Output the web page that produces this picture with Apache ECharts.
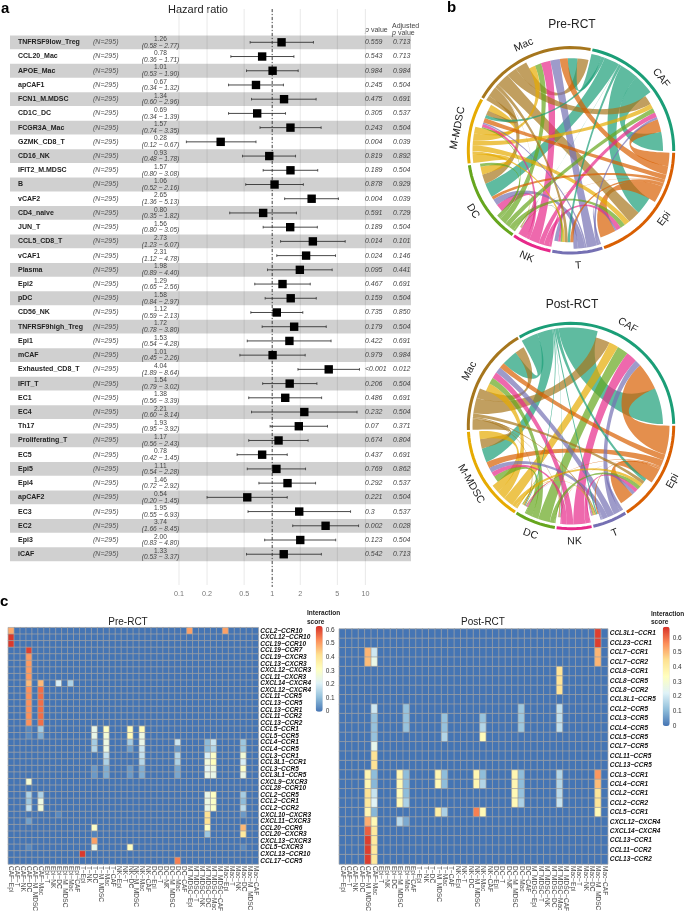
<!DOCTYPE html>
<html><head><meta charset="utf-8">
<style>html,body{margin:0;padding:0;background:#fff}#c{width:685px;height:914px}</style>
<script src="https://cdn.jsdelivr.net/npm/echarts@6/dist/echarts.min.js"></script>
</head><body><div id="c"></div>
<script>
const FONT='"Liberation Sans",Arial,sans-serif';
// ---------- panel a: forest data ----------
const forestNames=['TNFRSF9low_Treg','CCL20_Mac','APOE_Mac','apCAF1','FCN1_M.MDSC','CD1C_DC','FCGR3A_Mac','GZMK_CD8_T','CD16_NK','IFIT2_M.MDSC','B','vCAF2','CD4_naive','JUN_T','CCL5_CD8_T','vCAF1','Plasma','Epi2','pDC','CD56_NK','TNFRSF9high_Treg','Epi1','mCAF','Exhausted_CD8_T','IFIT_T','EC1','EC4','Th17','Proliferating_T','EC5','Epi5','Epi4','apCAF2','EC3','EC2','Epi3','iCAF'];
const forestHR=[1.26,0.78,1.01,0.67,1.34,0.69,1.57,0.28,0.93,1.57,1.06,2.65,0.80,1.56,2.73,2.31,1.98,1.29,1.58,1.12,1.72,1.53,1.01,4.04,1.54,1.38,2.21,1.93,1.17,0.78,1.11,1.46,0.54,1.95,3.74,2.00,1.33];
const forestLo=[0.58,0.36,0.53,0.34,0.60,0.34,0.74,0.12,0.48,0.80,0.52,1.36,0.35,0.80,1.23,1.12,0.89,0.65,0.84,0.59,0.78,0.54,0.45,1.89,0.79,0.56,0.60,0.95,0.56,0.42,0.54,0.72,0.20,0.55,1.66,0.83,0.53];
const forestHi=[2.77,1.71,1.90,1.32,2.96,1.39,3.35,0.67,1.78,3.08,2.16,5.13,1.82,3.05,6.07,4.78,4.40,2.56,2.97,2.13,3.80,4.28,2.26,8.64,3.02,3.39,8.14,3.92,2.43,1.45,2.28,2.92,1.45,6.93,8.45,4.80,3.37];
const forestP=['0.559','0.543','0.984','0.245','0.475','0.305','0.243','0.004','0.819','0.189','0.878','0.004','0.591','0.189','0.014','0.024','0.095','0.467','0.159','0.735','0.179','0.422','0.979','<0.001','0.206','0.486','0.232','0.07','0.674','0.437','0.769','0.292','0.221','0.3','0.002','0.123','0.542'];
const forestAdj=['0.713','0.713','0.984','0.504','0.691','0.537','0.504','0.039','0.892','0.504','0.929','0.039','0.729','0.504','0.101','0.146','0.441','0.691','0.504','0.850','0.504','0.691','0.984','0.012','0.504','0.691','0.504','0.371','0.804','0.691','0.862','0.537','0.504','0.537','0.028','0.504','0.713'];
const forestTicks=[0.1,0.2,0.5,1,2,5,10];
// ---------- panel b: chord data (rows = from, columns = to) ----------
const chordSectors=['CAF','Epi','T','NK','DC','M-MDSC','Mac'];
const chordColors=['#1B9E77','#D95F02','#7570B3','#E7298A','#66A61E','#E6AB02','#A6761D'];
const preFlows=[
 [12,11,1.5,.2,9,2,6],
 [8,10,2,.2,2,3,5],
 [1.5,1,2.5,.2,4,1,6],
 [3,3,1.5,.2,5,2,6],
 [3,3,1,.2,2,.7,4],
 [3,3.5,1.5,.2,5,4,4],
 [6,8,2,.2,6,3,7]];
const postFlows=[
 [23,2,.8,.25,.6,9,10],
 [17,9,.8,.25,.6,4,3.5],
 [4,2,.6,.25,.5,3,4],
 [7,2.5,.6,.25,.5,3,4],
 [7,2.5,.6,.25,.6,4,4],
 [6,2,.8,.25,.6,5,5],
 [9,2,.8,.25,.6,6,6]];
// ---------- panel c: heatmap data ----------
const columnsAll=['CAF-Epi','CAF-T','CAF-NK','CAF-DC','CAF-M_MDSC','CAF-Mac','Epi-T','Epi-NK','Epi-DC','Epi-M_MDSC','Epi-Mac','Epi-CAF','T-Epi','T-NK','T-DC','T-M_MDSC','T-Mac','T-CAF','NK-Epi','NK-T','NK-DC','NK-M_MDSC','NK-Mac','NK-CAF','DC-Epi','DC-T','DC-NK','DC-M_MDSC','DC-Mac','DC-CAF','M_MDSC-Epi','M_MDSC-T','M_MDSC-NK','M_MDSC-DC','M_MDSC-Mac','M_MDSC-CAF','Mac-Epi','Mac-T','Mac-NK','Mac-DC','Mac-M_MDSC','Mac-CAF'];
const preRows=['CCL2-CCR10','CXCL12-CCR10','CCL19-CCR10','CCL19-CCR7','CCL19-CXCR3','CCL13-CXCR3','CXCL12-CXCR3','CCL11-CXCR3','CXCL14-CXCR4','CXCL12-CXCR4','CCL11-CCR5','CCL13-CCR5','CCL13-CCR1','CCL11-CCR2','CCL13-CCR2','CCL5-CCR1','CCL5-CCR5','CCL4-CCR1','CCL4-CCR5','CCL3-CCR1','CCL3L1-CCR1','CCL3-CCR5','CCL3L1-CCR5','CXCL9-CXCR3','CCL28-CCR10','CCL2-CCR5','CCL2-CCR1','CCL2-CCR2','CXCL10-CXCR3','CXCL11-CXCR3','CCL20-CCR6','CCL20-CXCR3','CXCL13-CXCR3','CCL5-CXCR3','CXCL13-CCR10','CCL17-CCR5'];
const postRows=['CCL3L1-CCR1','CCL23-CCR1','CCL7-CCR1','CCL7-CCR2','CCL8-CCR1','CCL8-CCR5','CCL8-CCR2','CCL3L1-CCR5','CCL2-CCR5','CCL3-CCR5','CCL4-CCR5','CCL5-CCR5','CCL7-CCR5','CCL11-CCR5','CCL13-CCR5','CCL3-CCR1','CCL4-CCR1','CCL2-CCR1','CCL2-CCR2','CCL5-CCR1','CXCL12-CXCR4','CXCL14-CXCR4','CCL13-CCR1','CCL11-CCR2','CCL13-CCR2'];
// [row, column, score]; every other cell reads as 0
const preCells=[[0,0,.49],[0,30,.5],[0,36,.5],[1,0,.62],[2,0,.62],[3,3,.61],[4,3,.51],[5,3,.51],[6,3,.51],[7,3,.51],[8,3,.47],[8,5,.47],[8,8,.2],[8,10,.14],
[9,3,.52],[9,5,.56],[10,3,.52],[10,5,.56],[11,3,.52],[11,5,.56],[12,3,.52],[12,5,.56],[13,3,.52],[13,5,.56],[14,3,.52],[14,5,.56],
[15,3,.03],[15,5,.13],[15,14,.24],[15,16,.31],[15,20,.33],[15,22,.33],[16,3,.03],[16,5,.08],[16,14,.24],[16,16,.27],[16,20,.33],[16,22,.25],
[17,14,.13],[17,16,.25],[17,20,.13],[17,22,.24],[17,28,.18],[17,33,.1],[17,34,.18],[17,39,.12],
[18,14,.15],[18,16,.25],[18,20,.06],[18,22,.18],[18,28,.05],[18,33,.1],[18,34,.15],[18,39,.12],
[19,16,.17],[19,22,.17],[19,28,.15],[19,33,.2],[19,34,.3],[19,39,.27],
[20,16,.14],[20,22,.15],[20,28,.14],[20,33,.26],[20,34,.32],[20,39,.2],
[21,14,.05],[21,16,.08],[21,20,.05],[21,22,.08],[21,28,.07],[21,33,.22],[21,34,.26],[21,39,.3],
[22,14,.05],[22,16,.08],[22,20,.05],[22,22,.08],[22,28,.07],[22,33,.24],[22,34,.24],[22,39,.24],
[23,3,.28],[25,3,.14],[25,5,.14],[25,33,.24],[25,34,.31],[25,39,.13],[26,3,.12],[26,5,.25],[26,33,.25],[26,34,.3],[26,39,.1],[27,3,.17],[27,5,.27],[27,33,.24],[27,34,.3],[27,39,.16],
[28,8,.03],[28,33,.41],[28,39,.05],[29,3,.06],[29,33,.41],[30,14,.3],[30,33,.31],[30,39,.47],[31,14,.02],[31,33,.12],[31,39,.39],[32,14,.5],[33,3,.03],[33,14,.24],[33,20,.31],[33,39,.03],[34,12,.62],[35,28,.54]];
const postCells=[[0,40,.66],[1,40,.66],[2,4,.51],[2,5,.2],[2,40,.51],[3,4,.5],[3,5,.26],[3,40,.51],[4,34,.44],[5,34,.44],[6,34,.44],
[8,5,.2],[8,10,.12],[8,28,.13],[8,34,.18],[9,5,.12],[9,10,.12],[9,16,.12],[9,22,.12],[9,28,.13],[9,34,.18],[10,5,.12],[10,10,.12],[10,16,.12],[10,22,.16],[10,28,.13],[10,34,.18],
[11,5,.12],[11,16,.16],[11,22,.35],[12,5,.25],[13,5,.44],[14,5,.44],
[15,4,.37],[15,5,.11],[15,9,.37],[15,10,.11],[15,15,.37],[15,16,.11],[15,21,.37],[15,22,.11],[15,27,.37],[15,28,.11],[15,34,.16],[15,40,.55],
[16,4,.37],[16,5,.1],[16,9,.36],[16,10,.11],[16,15,.36],[16,16,.11],[16,21,.37],[16,22,.16],[16,27,.37],[16,28,.11],[16,34,.16],[16,40,.5],
[17,4,.44],[17,5,.19],[17,9,.35],[17,10,.11],[17,27,.36],[17,28,.12],[17,34,.17],[17,40,.43],
[18,4,.42],[18,5,.23],[18,9,.36],[18,10,.15],[18,27,.36],[18,28,.15],[18,34,.19],[18,40,.43],
[19,4,.37],[19,5,.1],[19,15,.4],[19,16,.15],[19,21,.58],[19,22,.36],[19,40,.36],[20,4,.52],[20,5,.36],[20,9,.17],[20,10,.08],[21,4,.62],[21,5,.42],[22,4,.66],[22,5,.42],[23,4,.66],[23,5,.42],[24,4,.66],[24,5,.42]];
const legendTicks=[0,0.1,0.2,0.3,0.4,0.5,0.6];
const heatColors=['#4575B4','#91BFDB','#E0F3F8','#FFFFBF','#FEE090','#FC8D59','#D73027'];

// ---------- geometry ----------
const ROW=14.22, FOREST_TOP=35.2;
const chartEl=document.getElementById('c');
const chart=echarts.init(chartEl,null,{renderer:'canvas'});
const txt=(x,y,t,o)=>({type:'text',x,y,style:Object.assign({text:t,fontFamily:FONT,fontSize:7,fill:'#444',textAlign:'left',textVerticalAlign:'middle'},o||{})});

function chordLayout(flows,startDeg,gapDeg){
  const n=flows.length;
  const outs=flows.map(r=>r.reduce((a,b)=>a+b,0));
  const ins=flows[0].map((_,j)=>flows.reduce((a,r)=>a+r[j],0));
  const total=outs.reduce((a,b)=>a+b,0)+ins.reduce((a,b)=>a+b,0);
  const k=(360-gapDeg*n)/total;
  const sectors=[],ends={};
  let cur=startDeg;
  for(let i=0;i<n;i++){
    const s=cur;
    for(let o=1;o<=n;o++){const t=(i-o+n*2)%n;const w=flows[i][t]*k;ends['o'+i+'_'+t]=[cur,cur+w];cur+=w;}
    for(let o=1;o<=n;o++){const f=(i-o+n*2)%n;const w=flows[f][i]*k;ends['i'+f+'_'+i]=[cur,cur+w];cur+=w;}
    sectors.push([s,cur]);cur+=gapDeg;
  }
  return {sectors,ends};
}
const pt=(cx,cy,r,deg)=>{const a=deg*Math.PI/180;return [cx+r*Math.sin(a),cy-r*Math.cos(a)];};
const fx=p=>p[0].toFixed(2)+' '+p[1].toFixed(2);
function arcCmd(cx,cy,r,a0,a1){ // clockwise polyline arc
  let s='';const steps=Math.max(2,Math.ceil(Math.abs(a1-a0)/3));
  for(let i=1;i<=steps;i++){s+=' L'+fx(pt(cx,cy,r,a0+(a1-a0)*i/steps));}
  return s;
}
function ribbon(cx,cy,rO,rI,a,b){
  const F=0.52;
  const p0=pt(cx,cy,rO,a[0]),q0=pt(cx,cy,rI,b[0]);
  const c=(ang,r)=>pt(cx,cy,r*F,ang);
  return 'M'+fx(p0)+arcCmd(cx,cy,rO,a[0],a[1])+
    ' C'+fx(c(a[1],rO))+' '+fx(c(b[0],rI))+' '+fx(q0)+
    arcCmd(cx,cy,rI,b[0],b[1])+
    ' C'+fx(c(b[1],rI))+' '+fx(c(a[0],rO))+' '+fx(p0)+' Z';
}
function chordSeries(flows,cx,cy,start,gap){
  const L=chordLayout(flows,start,gap);
  const links=[];
  flows.forEach((r,i)=>r.forEach((v,j)=>links.push([i,j,v])));
  links.sort((p,q)=>q[2]-p[2]);
  const ribbons={type:'custom',coordinateSystem:'none',silent:true,data:links,z:2,
    renderItem(params){
      const l=links[params.dataIndex];
      return {type:'path',shape:{pathData:ribbon(cx,cy,98.5,92,L.ends['o'+l[0]+'_'+l[1]],L.ends['i'+l[0]+'_'+l[1]])},
        style:{fill:chordColors[l[0]],opacity:.7,stroke:null}};
    }};
  const ring={type:'custom',coordinateSystem:'none',silent:true,z:3,data:chordSectors.map((s,i)=>[i]),
    renderItem(params){
      const i=params.dataIndex,[a0,a1]=L.sectors[i];
      const p=pt(cx,cy,102.7,a0);
      const m=(a0+a1)/2,lp=pt(cx,cy,115.5,m);
      let nm=((m%360)+360)%360, rot=(nm>90&&nm<270)?nm-180:nm;
      return {type:'group',children:[
        {type:'path',shape:{pathData:'M'+fx(p)+arcCmd(cx,cy,102.7,a0,a1)},style:{stroke:chordColors[i],lineWidth:3,fill:null}},
        {type:'text',x:lp[0],y:lp[1],rotation:-rot*Math.PI/180,originX:0,originY:0,
         style:{text:chordSectors[i],fontFamily:FONT,fontSize:10.5,fill:'#222',textAlign:'center',textVerticalAlign:'middle'}}
      ]};
    }};
  return [ribbons,ring];
}
function heatData(rows,cols,cells){
  const m=[];rows.forEach((_,r)=>cols.forEach((_,c)=>m.push([c,r,0])));
  cells.forEach(([r,c,v])=>{m[r*cols.length+c][2]=v;});
  return m;
}
const minus=s=>s.replace(/-/g,'\u2212');
const hidden={show:false};
const option={animation:false,backgroundColor:'#fff',textStyle:{fontFamily:FONT},
 grid:[
  {left:179,width:186.4,top:FOREST_TOP,height:ROW*37},
  {left:8.3,width:250,top:627.7,height:238.6},
  {left:339.3,width:268.4,top:629,height:237.7},
  {left:321.7,width:1,top:626,height:85.7},
  {left:668.7,width:1,top:626.7,height:99.3}
 ],
 xAxis:[
  {type:'log',logBase:10,gridIndex:0,min:.1,max:10,show:false},
  {type:'category',gridIndex:1,data:columnsAll,position:'bottom',axisLine:hidden,axisTick:hidden,splitLine:hidden,
   axisLabel:{interval:0,rotate:-90,fontSize:6.5,color:'#4d4d4d',margin:2,fontFamily:FONT,formatter:minus}},
  {type:'category',gridIndex:2,data:columnsAll,position:'bottom',axisLine:hidden,axisTick:hidden,splitLine:hidden,
   axisLabel:{interval:0,rotate:-90,fontSize:6.5,color:'#4d4d4d',margin:2,fontFamily:FONT,formatter:minus}},
  {type:'value',gridIndex:3,show:false},{type:'value',gridIndex:4,show:false}
 ],
 yAxis:[
  {type:'category',gridIndex:0,inverse:true,data:forestNames,axisLine:hidden,axisTick:hidden,splitLine:hidden,z:5,
   axisLabel:{interval:0,align:'left',margin:161,fontSize:7,fontWeight:'bold',color:'#222',fontFamily:FONT}},
  {type:'category',gridIndex:1,inverse:true,data:preRows,position:'right',axisLine:hidden,axisTick:hidden,splitLine:hidden,
   axisLabel:{interval:0,margin:2,fontSize:6.5,fontWeight:'bold',fontStyle:'italic',color:'#111',fontFamily:FONT,formatter:minus}},
  {type:'category',gridIndex:2,inverse:true,data:postRows,position:'right',axisLine:hidden,axisTick:hidden,splitLine:hidden,
   axisLabel:{interval:0,margin:2,fontSize:6.5,fontWeight:'bold',fontStyle:'italic',color:'#111',fontFamily:FONT,formatter:minus}},
  {type:'value',gridIndex:3,min:0,max:.63,interval:.1,position:'right',axisLine:hidden,axisTick:hidden,splitLine:hidden,
   axisLabel:{showMaxLabel:false,margin:3,fontSize:6.5,color:'#333',fontFamily:FONT,formatter:v=>legendTicks.includes(+v.toFixed(1))?(v===0?'0':v.toFixed(1)):''}},
  {type:'value',gridIndex:4,min:0,max:.677,interval:.1,position:'right',axisLine:hidden,axisTick:hidden,splitLine:hidden,
   axisLabel:{showMaxLabel:false,margin:3,fontSize:6.5,color:'#333',fontFamily:FONT,formatter:v=>legendTicks.includes(+v.toFixed(1))?(v===0?'0':v.toFixed(1)):''}}
 ],
 visualMap:[
  {type:'continuous',seriesIndex:4,min:0,max:.63,show:true,left:315.7,top:626,itemWidth:7,itemHeight:85.7,padding:0,text:null,showLabel:false,calculable:false,realtime:false,hoverLink:false,inRange:{color:heatColors},textStyle:{fontSize:0}},
  {type:'continuous',seriesIndex:5,min:0,max:.677,show:true,left:662.7,top:626.7,itemWidth:7,itemHeight:99.3,padding:0,text:null,showLabel:false,calculable:false,realtime:false,hoverLink:false,inRange:{color:heatColors},textStyle:{fontSize:0}}
 ],
 series:[
  // grid lines + tick labels
  {type:'custom',xAxisIndex:0,yAxisIndex:0,silent:true,z:1,data:forestTicks.map(t=>[t,0]),encode:{x:0,y:1},
   renderItem(params,api){
    const v=api.value(0),x=api.coord([v,0])[0];
    const kids=[{type:'line',shape:{x1:x,y1:9,x2:x,y2:585},style:{stroke:'#e3e3e3',lineWidth:.8}},
      txt(x,594,String(v),{textAlign:'center',fill:'#777',fontSize:7.2})];
    return {type:'group',children:kids};
   }},
  // bands
  {type:'custom',xAxisIndex:0,yAxisIndex:0,silent:true,z:2,data:forestNames.map((n,i)=>[1,i]),encode:{x:0,y:1},
   renderItem(params,api){
    if(params.dataIndex%2) return {type:'group',children:[]};
    const y=api.coord([1,api.value(1)])[1];
    return {type:'rect',shape:{x:10,y:y-6.9,width:401,height:13.8},style:{fill:'rgba(0,0,0,0.185)'}};
   }},
  // reference line at 1 (HR)
  {type:'custom',xAxisIndex:0,yAxisIndex:0,silent:true,z:3,data:[[1,0]],encode:{x:0,y:1},
   renderItem(params,api){
    const x=api.coord([api.value(0),0])[0];
    return {type:'line',shape:{x1:x,y1:9,x2:x,y2:587},style:{stroke:'#222',lineWidth:.8,lineDash:[3,2,1,2]}};
   }},
  // forest marks and text columns
  {type:'custom',xAxisIndex:0,yAxisIndex:0,silent:true,z:4,
   data:forestNames.map((n,i)=>[i,forestHR[i],forestLo[i],forestHi[i]]),encode:{x:[1,2,3],y:0},
   renderItem(params,api){
    const i=params.dataIndex,r=api.value(0);
    const c=api.coord([api.value(1),r]),lo=api.coord([api.value(2),r]),hi=api.coord([api.value(3),r]);
    const y=c[1],s=8.4;
    return {type:'group',children:[
     {type:'line',shape:{x1:lo[0],y1:y,x2:hi[0],y2:y},style:{stroke:'#333',lineWidth:.9}},
     {type:'line',shape:{x1:lo[0],y1:y-1.3,x2:lo[0],y2:y+1.3},style:{stroke:'#333',lineWidth:.8}},
     {type:'line',shape:{x1:hi[0],y1:y-1.3,x2:hi[0],y2:y+1.3},style:{stroke:'#333',lineWidth:.8}},
     {type:'rect',shape:{x:c[0]-s/2,y:y-s/2,width:s,height:s},style:{fill:'#000'}},
     txt(93,y,'(N=295)',{fontStyle:'italic',fill:'#555'}),
     txt(160.5,y-3.2,forestHR[i].toFixed(2),{textAlign:'center',fontSize:6.6,fill:'#444'}),
     txt(160.5,y+3.4,'('+forestLo[i].toFixed(2)+' \u2212 '+forestHi[i].toFixed(2)+')',{textAlign:'center',fontStyle:'italic',fontSize:6.6,fill:'#444'}),
     txt(365,y,forestP[i],{fontStyle:'italic',fill:'#444'}),
     txt(393,y,forestAdj[i],{fontStyle:'italic',fill:'#444'})
    ]};
   }},
  // heatmaps
  {type:'heatmap',xAxisIndex:1,yAxisIndex:1,silent:true,data:heatData(preRows,columnsAll,preCells),itemStyle:{borderColor:'#a3a3a3',borderWidth:.7},progressive:0},
  {type:'heatmap',xAxisIndex:2,yAxisIndex:2,silent:true,data:heatData(postRows,columnsAll,postCells),itemStyle:{borderColor:'#a3a3a3',borderWidth:.7},progressive:0},
  // chords
  ...chordSeries(preFlows,571,150.3,12,1),
  ...chordSeries(postFlows,571,426,330,1)
 ],
 graphic:[
  txt(1,9,'a',{fontSize:15,fontWeight:'bold',fill:'#000'}),
  txt(447,8,'b',{fontSize:15,fontWeight:'bold',fill:'#000'}),
  txt(0,602,'c',{fontSize:15,fontWeight:'bold',fill:'#000'}),
  txt(198,10,'Hazard ratio',{fontSize:11,textAlign:'center',fill:'#222'}),
  txt(365,30,'p',{fontStyle:'italic'}),txt(369,30,' value',{}),
  txt(392,26,'Adjusted',{}),txt(392,33,'p',{fontStyle:'italic'}),txt(396,33,' value',{}),
  txt(572,25,'Pre-RCT',{fontSize:12,textAlign:'center',fill:'#222'}),
  txt(572,305,'Post-RCT',{fontSize:12,textAlign:'center',fill:'#222'}),
  txt(128,622,'Pre-RCT',{fontSize:10,textAlign:'center',fill:'#222'}),
  txt(483,622,'Post-RCT',{fontSize:10,textAlign:'center',fill:'#222'}),
  txt(307,613,'Interaction',{fontSize:6.5,fontWeight:'bold',fill:'#222'}),
  txt(307,622,'score',{fontSize:6.5,fontWeight:'bold',fill:'#222'}),
  txt(651,614,'Interaction',{fontSize:6.5,fontWeight:'bold',fill:'#222'}),
  txt(651,622,'score',{fontSize:6.5,fontWeight:'bold',fill:'#222'})
 ]
};
chart.setOption(option);
</script></body></html>
